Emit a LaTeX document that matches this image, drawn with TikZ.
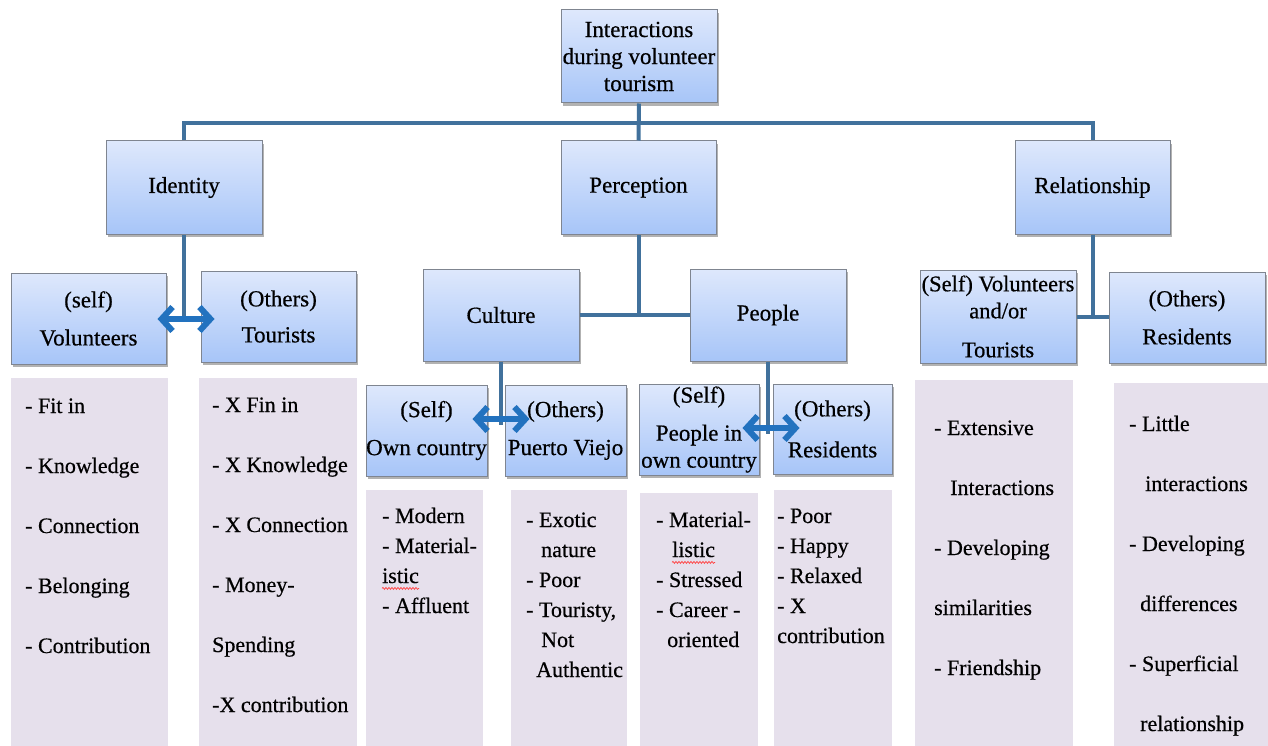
\documentclass[tikz,border=0pt]{standalone}
\usepackage{fontspec}
\setmainfont{Liberation Serif}[UprightFeatures={FakeBold=0.5}]
\usetikzlibrary{arrows.meta,shadows,decorations.pathmorphing}

\definecolor{boxtop}{HTML}{DEE8FC}
\definecolor{boxbot}{HTML}{A7C5F8}
\definecolor{boxline}{HTML}{7F8590}
\definecolor{linkblue}{HTML}{41719C}
\definecolor{arrowblue}{HTML}{2272BF}
\definecolor{listbg}{HTML}{E6E0EC}
\newcommand{\labelfont}{\fontsize{22}{27}\selectfont}
\newcommand{\boxfont}{\fontsize{23}{27}\selectfont}

\begin{document}
\begin{tikzpicture}[x=1pt,y=-1pt,
  box/.style={draw=boxline, line width=1pt, top color=boxtop, bottom color=boxbot,
    drop shadow={shadow xshift=2pt, shadow yshift=-3pt, fill=black, opacity=0.3},
    align=center, inner sep=0pt, font=\boxfont, text=black},
  link/.style={draw=linkblue, line width=4pt},
  dbl/.style={draw=arrowblue, line width=6pt,
    {Straight Barb[length=11pt,width=24pt,line width=6pt]}-{Straight Barb[length=11pt,width=24pt,line width=6pt]}},
  panel/.style={fill=listbg, draw=none, inner sep=0pt, anchor=north west},
  item/.style={anchor=base west, inner sep=0pt, font=\labelfont, text=black},
  wavy/.style={draw=red!75, line width=0.7pt, decorate,
    decoration={snake, amplitude=1pt, segment length=3pt}}]

\useasboundingbox (0,0) rectangle (1268,746);

% ---- boxes ----
\node[box, minimum width=156pt, minimum height=93pt] (top) at (639,56.5) {Interactions\\during volunteer\\tourism};
\node[box, minimum width=156pt, minimum height=93pt] (ident) at (184,187.5) {Identity};
\node[box, minimum width=155pt, minimum height=93pt] (perc) at (638.5,187.5) {Perception};
\node[box, minimum width=155pt, minimum height=93pt] (rel) at (1092.5,187.5) {Relationship};

\node[box, minimum width=155pt, minimum height=91pt] (selfvol) at (88.5,318.5) {(self)\\[11pt]Volunteers};
\node[box, minimum width=155pt, minimum height=91pt] (othtour) at (278.5,316.5) {(Others)\\[9pt]Tourists};

\node[box, minimum width=156pt, minimum height=92pt] (culture) at (501,315) {Culture};
\node[box, minimum width=156pt, minimum height=92pt] (people) at (768,315) {People};

\node[box, minimum width=121pt, minimum height=91pt] (owncty) at (426.5,430.5) {(Self)\\[11pt]Own country};
\node[box, minimum width=121pt, minimum height=91pt] (pviejo) at (565.5,430.5) {(Others)\\[11pt]Puerto Viejo};
\node[box, minimum width=120pt, minimum height=91pt] (pown) at (699,429.5) {(Self)\\[11pt]People in\\own country};
\node[box, minimum width=119pt, minimum height=90pt] (ores) at (832.5,429) {(Others)\\[14pt]Residents};

\node[box, minimum width=156pt, minimum height=93pt, font=\fontsize{22.5}{27}\selectfont] (selfvt) at (998,316.5) {(Self) Volunteers\\and/or\\[12pt]Tourists};
\node[box, minimum width=156pt, minimum height=91pt] (ores2) at (1187,317.5) {(Others)\\[11pt]Residents};

% ---- tree connectors ----
\coordinate (bus) at (639,123);
\draw[link] (top.south) -- (perc.north);
\draw[link, line join=miter] (ident.north) -- (ident.north |- bus) -| (rel.north);

\draw[link] (perc.south) -- (perc.south |- culture.east);
\draw[link] (culture.east) -- (people.west);

\draw[link] (rel.south) -- (rel.south |- selfvt.east);
\draw[link] (selfvt.east) -- (selfvt.east -| ores2.west);

% ---- self / others links ----
\coordinate (ja) at (184,319);
\coordinate (jb) at (501,419);
\coordinate (jc) at (768,428);
\draw[link] (ident.south) -- (ja);
\draw[dbl] ([xshift=-9pt]selfvol.east |- ja) -- ([xshift=14pt]othtour.west |- ja);
\draw[link] (culture.south) -- ([yshift=-6pt]jb);
\draw[dbl] ([xshift=-15pt]owncty.east |- jb) -- ([xshift=25pt]pviejo.west |- jb);
\draw[link] (people.south) -- ([yshift=-6pt]jc);
\draw[dbl] ([xshift=-17pt]pown.east |- jc) -- ([xshift=27pt]ores.west |- jc);

% ---- attribute panels ----
\node[panel, minimum width=157pt, minimum height=368pt] (p1) at (11,378) {};
\node[panel, minimum width=158pt, minimum height=368pt] (p2) at (199,378) {};
\node[panel, minimum width=117pt, minimum height=256pt] (p3) at (366,490) {};
\node[panel, minimum width=116pt, minimum height=256pt] (p4) at (511,490) {};
\node[panel, minimum width=118pt, minimum height=253pt] (p5) at (640,493) {};
\node[panel, minimum width=118pt, minimum height=256pt] (p6) at (774,490) {};
\node[panel, minimum width=158pt, minimum height=366pt] (p7) at (915,380) {};
\node[panel, minimum width=154pt, minimum height=363pt] (p8) at (1114,383) {};

\foreach \t [count=\i] in {- Fit in, - Knowledge, - Connection, - Belonging, - Contribution}
  \node[item] (a\i) at (25,{413+60*(\i-1)}) {\t};
\foreach \t [count=\i] in {- X Fin in, - X Knowledge, - X Connection, - Money-, Spending, -X contribution}
  \node[item] (b\i) at (212,{412+60*(\i-1)}) {\t};
\foreach \t [count=\i] in {- Modern, - Material-, istic, - Affluent}
  \node[item] (c\i) at (382,{523+30*(\i-1)}) {\t};
\foreach \t [count=\i] in {- Exotic, \hspace*{15pt}nature, - Poor, {- Touristy,}, \hspace*{15pt}Not, \hspace*{10pt}Authentic}
  \node[item] (d\i) at (526,{527+30*(\i-1)}) {\t};
\foreach \t [count=\i] in {- Material-, \hspace*{16pt}listic, - Stressed, - Career -, \hspace*{11pt}oriented}
  \node[item] (e\i) at (656,{527+30*(\i-1)}) {\t};
\foreach \t [count=\i] in {- Poor, - Happy, - Relaxed, - X, contribution}
  \node[item] (f\i) at (777,{523+30*(\i-1)}) {\t};
\foreach \t [count=\i] in {- Extensive, \hspace*{16pt}Interactions, - Developing, similarities, - Friendship}
  \node[item] (g\i) at (934,{435+60*(\i-1)}) {\t};
\foreach \t [count=\i] in {- Little, \hspace*{16pt}interactions, - Developing, \hspace*{11pt}differences, - Superficial, \hspace*{11pt}relationship}
  \node[item] (h\i) at (1129,{431+60*(\i-1)}) {\t};

% spell-check squiggles
\draw[wavy] ([yshift=-5pt]c3.south west) -- ([yshift=-5pt]c3.south east);
\draw[wavy] ([xshift=16pt,yshift=-5pt]e2.south west) -- ([yshift=-5pt]e2.south east);

\end{tikzpicture}
\end{document}
